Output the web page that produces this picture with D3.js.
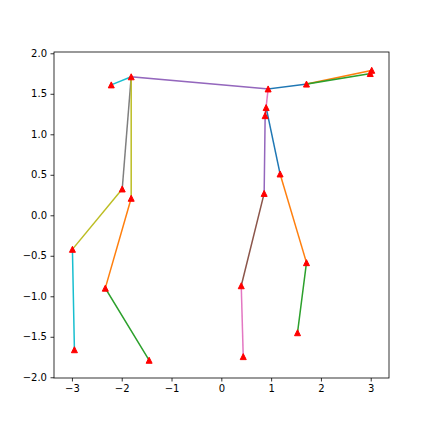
<!DOCTYPE html>
<html>
<head>
<meta charset="utf-8">
<script src="https://cdn.jsdelivr.net/npm/d3@7"></script>
<style>
  body { margin: 0; background: #fff; }
  text { font-family: "DejaVu Sans", sans-serif; }
</style>
</head>
<body>
<div id="chart"></div>
<script>
"use strict"

// joint positions
var jointNames = ["A","B","C","D","E","F","G","H","I","J","K","L","M","N","O","P","Q","R","S","T"]
var jointX = [-2.21,-1.81,-1.99,-1.81,-2.99,-2.95,-2.33,-1.45,0.94,1.71,3.02,2.99,0.90,0.88,1.18,0.86,1.71,0.40,0.44,1.53]
var jointY = [1.61,1.71,0.325,0.21,-0.42,-1.66,-0.90,-1.79,1.56,1.62,1.79,1.75,1.33,1.23,0.51,0.27,-0.585,-0.87,-1.745,-1.45]

// bones: [from, to] and which colour of the cycle they got
var bones = [
  ["I","J"],["J","K"],["J","L"],["K","L"],["B","I"],["P","R"],["I","N"],["B","C"],["B","D"],["A","B"],
  ["M","O"],["O","Q"],["Q","T"],["M","N"],["N","P"],["R","S"],["C","E"],["E","F"],["D","G"],["G","H"]
]
var boneColor = [0,1,2,3,4,5,6,7,8,9, 0,1,2,3,4,6,8,9,1,2]

var xTicks = [-3,-2,-1,0,1,2,3]
var yTicks = [-2,-1.5,-1,-0.5,0,0.5,1,1.5,2]

var width = 432, height = 432
var margin = {top: 52, left: 54, right: 43, bottom: 54}

main()

function main() {
    var svg = d3.select("#chart").append("svg")
        .attr("width", width).attr("height", height)

    var x = d3.scaleLinear().domain([-3.36, 3.367]).range([margin.left, width - margin.right])
    var y = d3.scaleLinear().domain([-2.009, 2.016]).range([height - margin.bottom, margin.top])

    var pos = {}
    jointNames.forEach(function(n, i) { pos[n] = {x: jointX[i], y: jointY[i]} })

    var colors = d3.schemeCategory10

    svg.append("g").selectAll("line")
        .data(bones)
        .enter().append("line")
        .attr("x1", function(d) { return x(pos[d[0]].x) })
        .attr("y1", function(d) { return y(pos[d[0]].y) })
        .attr("x2", function(d) { return x(pos[d[1]].x) })
        .attr("y2", function(d) { return y(pos[d[1]].y) })
        .attr("stroke", function(d, i) { return colors[boneColor[i]] })
        .attr("stroke-width", 1.5)
        .attr("stroke-linecap", "square")

    // red triangle markers
    svg.append("g").selectAll("path")
        .data(jointNames)
        .enter().append("path")
        .attr("d", "M0,-3L-3,3L3,3Z")
        .attr("transform", function(d, i) { return "translate(" + x(jointX[i]) + "," + y(jointY[i]) + ")" })
        .attr("fill", "red")
        .attr("stroke", "red")
        .attr("stroke-width", 1)

    // frame
    svg.append("rect")
        .attr("x", margin.left).attr("y", margin.top)
        .attr("width", width - margin.left - margin.right)
        .attr("height", height - margin.top - margin.bottom)
        .attr("fill", "none").attr("stroke", "#000").attr("stroke-width", 0.8)

    var xAxis = svg.append("g")
        .attr("transform", "translate(0," + (height - margin.bottom) + ")")
        .call(d3.axisBottom(x).tickValues(xTicks).tickSize(3.5).tickPadding(3.5).tickFormat(d3.format("d")))
    var yAxis = svg.append("g")
        .attr("transform", "translate(" + margin.left + ",0)")
        .call(d3.axisLeft(y).tickValues(yTicks).tickSize(3.5).tickPadding(3.5).tickFormat(d3.format(".1f")))

    ;[xAxis, yAxis].forEach(function(a) {
        a.select(".domain").remove()
        a.selectAll(".tick line").attr("stroke", "#000").attr("stroke-width", 0.8)
        a.selectAll(".tick text").attr("fill", "#000").style("font-size", "10px")
            .style("font-family", "'DejaVu Sans', sans-serif")
    })
}
</script>
</body>
</html>
